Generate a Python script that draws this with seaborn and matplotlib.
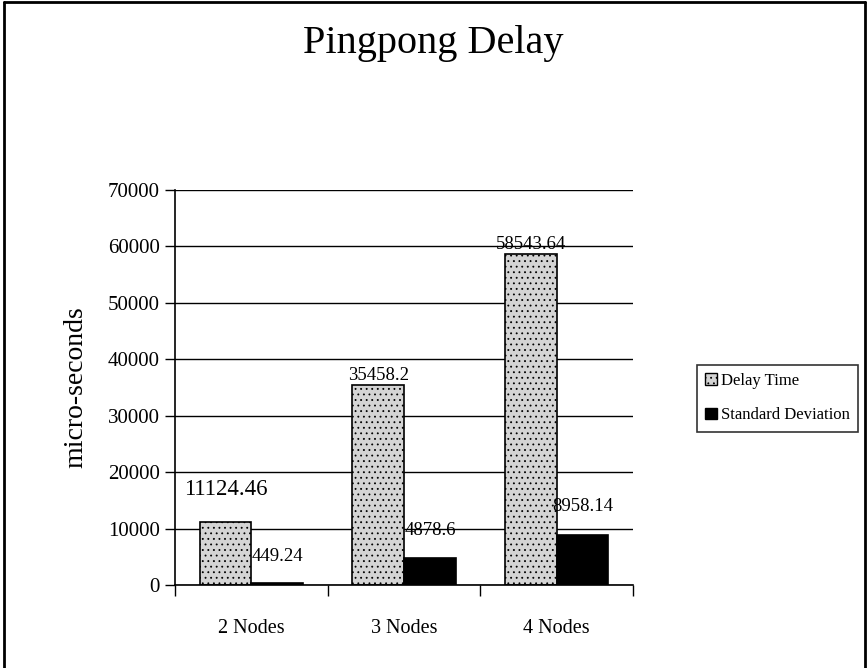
import numpy as np
import pandas as pd
import matplotlib
matplotlib.use('Agg')
import matplotlib.pyplot as plt
from matplotlib.patches import Rectangle
from matplotlib.lines import Line2D
import seaborn as sns

# data
nodes = ['2 Nodes', '3 Nodes', '4 Nodes']
delay_time = [11124.46, 35458.2, 58543.64]
std_dev = [449.24, 4878.6, 8958.14]
delay_labels = ['11124.46', '35458.2', '58543.64']
std_labels = ['449.24', '4878.6', '8958.14']
series = ['Delay Time', 'Standard Deviation']

df = pd.DataFrame({
    'nodes': nodes * 2,
    'value': delay_time + std_dev,
    'series': [series[0]] * 3 + [series[1]] * 3,
})

sns.set_style('white')
plt.rcParams['font.family'] = ['Liberation Serif', 'DejaVu Serif']
plt.rcParams['hatch.linewidth'] = 0.6
for k in ['text.color', 'axes.labelcolor', 'xtick.color', 'ytick.color']:
    plt.rcParams[k] = 'black'

fig = plt.figure(figsize=(8.67, 6.68), dpi=100)
ax = fig.add_axes([0.202, 0.124, 0.528, 0.592])

sns.barplot(data=df, x='nodes', y='value', hue='series', ax=ax,
            palette={'Delay Time': '#d4d4d4', 'Standard Deviation': 'black'},
            width=0.68, saturation=1, edgecolor='black', linewidth=1.2,
            legend=False)

for p in ax.containers[0]:
    p.set_hatch('...')

# bar labels
ax.set_ylim(0, 70000)
ax.set_xlim(-0.5, 2.5)
pt = 0.72
delay_off = [33, 9, 10]
std_off = [26, 27, 28]
delay_fs = [16.5, 13.5, 13.5]
for i, p in enumerate(ax.containers[0]):
    ax.annotate(delay_labels[i], (p.get_x() + p.get_width() / 2, p.get_height()),
                xytext=(0, delay_off[i] * pt), textcoords='offset points',
                ha='center', va='center', fontsize=delay_fs[i])
for i, p in enumerate(ax.containers[1]):
    ax.annotate(std_labels[i], (p.get_x() + p.get_width() / 2, p.get_height()),
                xytext=(0, std_off[i] * pt), textcoords='offset points',
                ha='center', va='center', fontsize=13.5)

# axes styling
ax.set_yticks(np.arange(0, 70001, 10000))
ax.yaxis.grid(True, color='black', linewidth=1)
ax.set_axisbelow(True)
ax.tick_params(axis='y', direction='out', length=7, width=1, color='black',
               labelsize=15, left=True, pad=4)
ax.set_xticks(range(3))
ax.set_xticks([-0.5, 0.5, 1.5, 2.5], minor=True)
ax.tick_params(axis='x', which='major', length=0, labelsize=14.5, pad=24)
ax.tick_params(axis='x', which='minor', direction='out', length=8, width=1,
               color='black', bottom=True)
for s in ['top', 'right']:
    ax.spines[s].set_visible(False)
for s in ['left', 'bottom']:
    ax.spines[s].set_color('black')
    ax.spines[s].set_linewidth(1.2)
ax.set_xlabel('')
ax.set_ylabel('micro-seconds', fontsize=20, labelpad=14)

fig.text(0.5, 0.935, 'Pingpong Delay', ha='center', va='center', fontsize=29)

# legend
handles = [
    Rectangle((0, 0), 1, 1, facecolor='#d4d4d4', edgecolor='black', hatch='...'),
    Rectangle((0, 0), 1, 1, facecolor='black', edgecolor='black'),
]
leg = fig.legend(handles, series, loc='upper left',
                 bbox_to_anchor=(0.804, 0.454), bbox_transform=fig.transFigure,
                 borderaxespad=0, fontsize=12, handlelength=0.7, handleheight=0.7,
                 handletextpad=0.25, labelspacing=1.1, borderpad=0.5,
                 fancybox=False, frameon=True)
leg.get_frame().set_edgecolor('black')
leg.get_frame().set_linewidth(1.2)

# outer frame
for xs, ys in [([0.005, 0.005], [0, 0.997]), ([0.005, 0.998], [0.997, 0.997]),
               ([0.998, 0.998], [0, 0.997])]:
    fig.add_artist(Line2D(xs, ys, color='black', linewidth=2,
                          transform=fig.transFigure))

fig.savefig('out.png', dpi=100)
